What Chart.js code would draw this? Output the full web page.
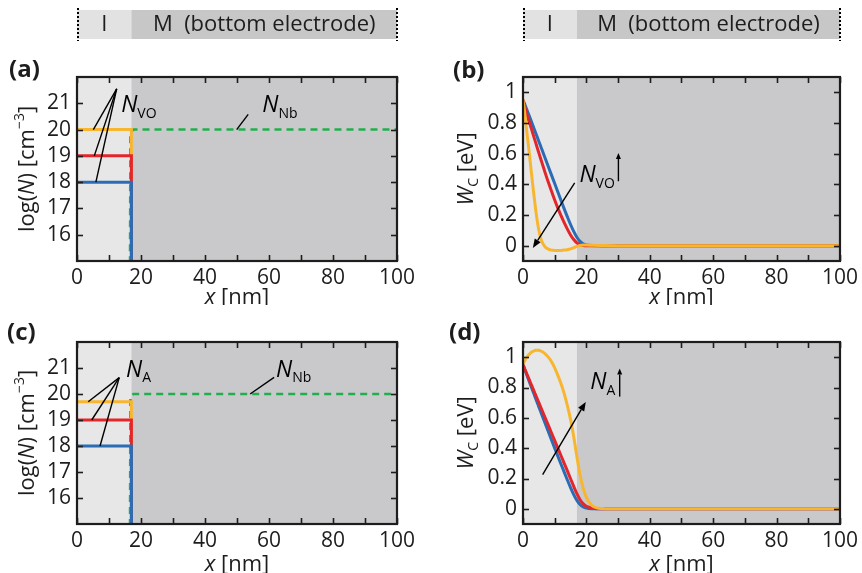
<!DOCTYPE html>
<html>
<head>
<meta charset="utf-8">
<script src="https://cdn.jsdelivr.net/npm/chart.js@4.4.1/dist/chart.umd.min.js"></script>
<style>
  html, body { margin: 0; padding: 0; background: #fff; }
  #wrap { position: relative; width: 862px; height: 573px; overflow: hidden; }
  #wrap canvas { position: absolute; display: block; }
</style>
</head>
<body>
<div id="wrap">
  <canvas id="panelA" width="431" height="305" style="left:0;top:0"></canvas>
  <canvas id="panelB" width="431" height="305" style="left:431px;top:0"></canvas>
  <canvas id="panelC" width="431" height="268" style="left:0;top:305px"></canvas>
  <canvas id="panelD" width="431" height="268" style="left:431px;top:305px"></canvas>
</div>
<script>
// interface between insulator (I) and bottom electrode (M), nm
const interfaceX = 17

const xTickValues = [ 0, 20, 40, 60, 80, 100 ]
const xMinorValues = [ 0, 10, 20, 30, 40, 50, 60, 70, 80, 90, 100 ]
const logTickValues = [ 16, 17, 18, 19, 20, 21 ]
const wTickValues = [ 0, 0.2, 0.4, 0.6, 0.8, 1 ]

// log10 of doping levels in the insulator: blue, red, yellow
const nVO = [ 18, 19, 20 ]
const nA = [ 18, 19, 19.7 ]
const nNb = 20

// conduction band edge W_C [eV] along x [nm]
const xGrid = [ 0, 0.5, 1, 1.5, 2, 2.5, 3, 3.5, 4, 4.5, 5, 5.5, 6,
  7, 8, 9, 10, 11, 12, 13, 14, 15, 16, 17, 18, 19, 20,
  22, 25, 30, 40, 60, 80, 100 ]

const wcVO18 = [ 0.95, 0.925, 0.898, 0.871, 0.845, 0.818, 0.79, 0.763, 0.735, 0.708, 0.68, 0.653, 0.625,
  0.57, 0.515, 0.46, 0.405, 0.35, 0.295, 0.24, 0.188, 0.138, 0.093, 0.055, 0.028, 0.012, 0.005,
  0.001, 0, 0, 0, 0, 0, 0 ]
const wcVO19 = [ 0.95, 0.91, 0.872, 0.838, 0.805, 0.772, 0.74, 0.705, 0.672, 0.638, 0.605, 0.572, 0.54,
  0.475, 0.413, 0.355, 0.298, 0.245, 0.196, 0.15, 0.108, 0.07, 0.04, 0.018, 0.006, 0.001, 0,
  0, 0, 0, 0, 0, 0, 0 ]
const wcVO20 = [ 0.95, 0.87, 0.78, 0.69, 0.6, 0.505, 0.41, 0.32, 0.235, 0.16, 0.1, 0.055, 0.025,
  -0.008, -0.022, -0.029, -0.031, -0.032, -0.031, -0.029, -0.026, -0.021, -0.013, -0.005, 0.001, 0.004, 0.004,
  0.002, 0.001, 0, 0, 0, 0, 0 ]

const wcA18 = [ 0.95, 0.922, 0.894, 0.866, 0.838, 0.81, 0.782, 0.755, 0.727, 0.7, 0.672, 0.645, 0.618,
  0.563, 0.508, 0.454, 0.4, 0.347, 0.294, 0.242, 0.19, 0.14, 0.094, 0.056, 0.029, 0.013, 0.005,
  0.001, 0, 0, 0, 0, 0, 0 ]
const wcA19 = [ 0.95, 0.925, 0.9, 0.875, 0.85, 0.825, 0.8, 0.775, 0.75, 0.725, 0.7, 0.675, 0.65,
  0.6, 0.55, 0.5, 0.45, 0.4, 0.35, 0.3, 0.25, 0.198, 0.148, 0.1, 0.06, 0.033, 0.016,
  0.004, 0, 0, 0, 0, 0, 0 ]
const wcA197 = [ 0.955, 0.975, 0.993, 1.008, 1.02, 1.03, 1.037, 1.042, 1.045, 1.046, 1.045, 1.042, 1.037,
  1.022, 1.0, 0.97, 0.93, 0.88, 0.825, 0.76, 0.68, 0.59, 0.475, 0.345, 0.225, 0.135, 0.075,
  0.018, 0.002, 0, 0, 0, 0, 0 ]

const BLUE = '#2A6DB5'
const RED = '#E3262B'
const YELLOW = '#F8B630'
const GREEN = '#20AF4C'
const INK = '#1E1C1D'
const FONT = '"Open Sans", sans-serif'

Chart.defaults.font.family = FONT
Chart.defaults.font.size = 21
Chart.defaults.color = INK

// ---- helpers ----------------------------------------------------------

function richText(ctx, parts, x, y, size, align) {
  const fontFor = k => {
    const s = (k === 'sub' || k === 'sup') ? Math.round(size * 0.62) : size
    return (k === 'i' ? 'italic ' : k === 'b' ? 'bold ' : '') + s + 'px ' + FONT
  }
  let total = 0
  parts.forEach(([t, k]) => { ctx.font = fontFor(k); total += ctx.measureText(t).width })
  let cx = align === 'center' ? x - total / 2 : x
  ctx.textAlign = 'left'
  ctx.textBaseline = 'middle'
  parts.forEach(([t, k]) => {
    ctx.font = fontFor(k)
    const dy = k === 'sub' ? size * 0.34 : k === 'sup' ? -size * 0.36 : 0
    ctx.fillText(t, cx, y + dy)
    cx += ctx.measureText(t).width
  })
}

function segment(ctx, x1, y1, x2, y2) {
  ctx.beginPath()
  ctx.moveTo(x1, y1)
  ctx.lineTo(x2, y2)
  ctx.stroke()
}

function arrow(ctx, x1, y1, x2, y2, len, half) {
  const ang = Math.atan2(y2 - y1, x2 - x1)
  const bx = x2 - len * Math.cos(ang)
  const by = y2 - len * Math.sin(ang)
  segment(ctx, x1, y1, bx, by)
  ctx.beginPath()
  ctx.moveTo(x2, y2)
  ctx.lineTo(bx + half * Math.sin(ang), by - half * Math.cos(ang))
  ctx.lineTo(bx - half * Math.sin(ang), by + half * Math.cos(ang))
  ctx.closePath()
  ctx.fill()
}

function stepData(level) {
  return [ { x: 0, y: level }, { x: interfaceX, y: level }, { x: interfaceX, y: 14 } ]
}

function nbData() {
  return [ { x: interfaceX - 0.45, y: 14 }, { x: interfaceX - 0.3, y: nNb - 0.12 },
    { x: interfaceX + 0.6, y: nNb }, { x: 100, y: nNb } ]
}

function curve(values) {
  return xGrid.map((x, i) => ({ x, y: values[i] }))
}

// ---- plugins ----------------------------------------------------------

// grey I / M regions, boxed frame and inward ticks on all four sides
const panelFrame = {
  id: 'panelFrame',
  beforeDatasetsDraw(chart) {
    const { ctx, chartArea: a, scales: { x } } = chart
    const xi = x.getPixelForValue(interfaceX)
    ctx.save()
    ctx.fillStyle = '#E7E7E7'
    ctx.fillRect(a.left, a.top, xi - a.left, a.bottom - a.top)
    ctx.fillStyle = '#C9C9CB'
    ctx.fillRect(xi, a.top, a.right - xi, a.bottom - a.top)
    ctx.restore()
  },
  afterDatasetsDraw(chart) {
    const { ctx, chartArea: a, scales: { x, y } } = chart
    const t = 6
    ctx.save()
    ctx.strokeStyle = INK
    ctx.lineWidth = 1.6
    xMinorValues.forEach(v => {
      const px = Math.round(x.getPixelForValue(v)) + 0.5
      segment(ctx, px, a.bottom, px, a.bottom - t)
      segment(ctx, px, a.top, px, a.top + t)
    })
    y.ticks.forEach(tk => {
      const py = Math.round(y.getPixelForValue(tk.value)) + 0.5
      segment(ctx, a.left, py, a.left + t, py)
      segment(ctx, a.right, py, a.right - t, py)
    })
    ctx.lineWidth = 2.2
    ctx.strokeRect(a.left, a.top, a.right - a.left, a.bottom - a.top)
    ctx.restore()
  }
}

// "I | M (bottom electrode)" strip above the top row
const layerStrip = {
  id: 'layerStrip',
  afterDraw(chart) {
    const { ctx, chartArea: a, scales: { x } } = chart
    const xi = x.getPixelForValue(interfaceX)
    const top = 10
    const h = 29
    ctx.save()
    ctx.fillStyle = '#E2E2E2'
    ctx.fillRect(a.left, top, xi - a.left, h)
    ctx.fillStyle = '#C7C7C7'
    ctx.fillRect(xi, top, a.right - xi, h)
    ctx.strokeStyle = '#000'
    ctx.lineWidth = 2
    ctx.setLineDash([ 2, 2 ])
    for (const px of [ a.left + 1, a.right ]) {
      segment(ctx, px, top - 2, px, top + h + 2)
    }
    ctx.setLineDash([])
    ctx.fillStyle = INK
    richText(ctx, [ [ 'I', 'r' ] ], (a.left + xi) / 2, top + h / 2, 22, 'center')
    richText(ctx, [ [ 'M  (bottom electrode)', 'r' ] ], (xi + a.right) / 2, top + h / 2, 22, 'center')
    ctx.restore()
  }
}

function axisTitles(label, labelX, labelY, yParts, yTitleX, xTitleY) {
  return {
    id: 'axisTitles',
    afterDraw(chart) {
      const { ctx, chartArea: a } = chart
      ctx.save()
      ctx.fillStyle = INK
      ctx.font = 'bold 24px ' + FONT
      ctx.textAlign = 'left'
      ctx.textBaseline = 'middle'
      ctx.fillText(label, labelX, labelY)
      richText(ctx, [ [ 'x', 'i' ], [ ' [nm]', 'r' ] ], (a.left + a.right) / 2, xTitleY, 22, 'center')
      ctx.translate(yTitleX, (a.top + a.bottom) / 2)
      ctx.rotate(-Math.PI / 2)
      richText(ctx, yParts, 0, 0, 22, 'center')
      ctx.restore()
    }
  }
}

const logTitle = [ [ 'log(', 'r' ], [ 'N', 'i' ], [ ') [cm', 'r' ], [ '\u22123', 'sup' ], [ ']', 'r' ] ]
const wTitle = [ [ 'W', 'i' ], [ 'C', 'sub' ], [ ' [eV]', 'r' ] ]

// leader lines and labels
function notesPlugin(draw) {
  return {
    id: 'notes',
    afterDatasetsDraw(chart) {
      const { ctx, scales: { x, y } } = chart
      const px = v => x.getPixelForValue(v)
      const py = v => y.getPixelForValue(v)
      ctx.save()
      ctx.strokeStyle = '#000'
      ctx.fillStyle = '#000'
      ctx.lineWidth = 1.4
      draw(ctx, px, py)
      ctx.restore()
    }
  }
}

const notesA = notesPlugin((ctx, px, py) => {
  const hub = [ 12.4, 21.55 ]
  for (const [ ex, ey ] of [ [ 5.1, nVO[2] ], [ 5.4, nVO[1] ], [ 5.9, nVO[0] ] ]) {
    segment(ctx, px(hub[0]), py(hub[1]), px(ex), py(ey))
  }
  segment(ctx, px(53.5), py(20.58), px(49.9), py(nNb))
  richText(ctx, [ [ 'N', 'i' ], [ 'VO', 'sub' ] ], px(13.8), py(20.9), 23, 'left')
  richText(ctx, [ [ 'N', 'i' ], [ 'Nb', 'sub' ] ], px(57.9), py(20.9), 23, 'left')
})

const notesC = notesPlugin((ctx, px, py) => {
  const hub = [ 13.2, 20.63 ]
  for (const [ ex, ey ] of [ [ 3.5, nA[2] ], [ 4.6, nA[1] ], [ 7.2, nA[0] ] ]) {
    segment(ctx, px(hub[0]), py(hub[1]), px(ex), py(ey))
  }
  segment(ctx, px(61.6), py(20.64), px(54.1), py(nNb))
  richText(ctx, [ [ 'N', 'i' ], [ 'A', 'sub' ] ], px(15.3), py(20.92), 23, 'left')
  richText(ctx, [ [ 'N', 'i' ], [ 'Nb', 'sub' ] ], px(62.2), py(20.92), 23, 'left')
})

const notesB = notesPlugin((ctx, px, py) => {
  arrow(ctx, px(16.3), py(0.41), px(3.1), py(-0.015), 9, 3.5)
  arrow(ctx, px(30.1), py(0.42), px(30.1), py(0.605), 6, 2.5)
  richText(ctx, [ [ 'N', 'i' ], [ 'VO', 'sub' ] ], px(17.8), py(0.455), 23, 'left')
})

const notesD = notesPlugin((ctx, px, py) => {
  arrow(ctx, px(6.2), py(0.225), px(19.8), py(0.705), 9, 3.5)
  arrow(ctx, px(30.5), py(0.74), px(30.5), py(0.925), 6, 2.5)
  richText(ctx, [ [ 'N', 'i' ], [ 'A', 'sub' ] ], px(21.2), py(0.83), 23, 'left')
})

// ---- chart factory ----------------------------------------------------

function makePanel(id, datasets, yRange, yTicks, pad, yWidth, xHeight, plugins) {
  return new Chart(document.getElementById(id), {
    type: 'line',
    data: { datasets },
    plugins: [ panelFrame, ...plugins ],
    options: {
      responsive: false,
      animation: false,
      events: [],
      layout: { padding: pad },
      elements: {
        point: { radius: 0 },
        line: { borderWidth: 3, borderJoinStyle: 'miter', borderCapStyle: 'butt' }
      },
      scales: {
        x: {
          type: 'linear',
          min: 0,
          max: 100,
          afterBuildTicks: s => { s.ticks = xTickValues.map(v => ({ value: v })) },
          afterFit: s => { s.height = xHeight },
          grid: { display: false, drawTicks: false },
          border: { display: false },
          ticks: { padding: 4, maxRotation: 0, autoSkip: false, callback: v => String(v) }
        },
        y: {
          type: 'linear',
          min: yRange[0],
          max: yRange[1],
          afterBuildTicks: s => { s.ticks = yTicks.map(v => ({ value: v })) },
          afterFit: s => { s.width = yWidth },
          grid: { display: false, drawTicks: false },
          border: { display: false },
          ticks: { padding: 6, autoSkip: false, callback: v => String(v) }
        }
      },
      plugins: {
        legend: { display: false },
        tooltip: { enabled: false }
      }
    }
  })
}

function dopingSets(levels) {
  return [
    { data: stepData(levels[0]), borderColor: BLUE },
    { data: stepData(levels[1]), borderColor: RED },
    { data: stepData(levels[2]), borderColor: YELLOW },
    { data: nbData(), borderColor: GREEN, borderWidth: 2.6, borderDash: [ 7, 5 ] }
  ]
}

function bandSets(blue, red, yellow) {
  return [
    { data: curve(yellow), borderColor: YELLOW, cubicInterpolationMode: 'monotone' },
    { data: curve(red), borderColor: RED, cubicInterpolationMode: 'monotone' },
    { data: curve(blue), borderColor: BLUE, cubicInterpolationMode: 'monotone' }
  ]
}

let panelA = makePanel('panelA', dopingSets(nVO), [ 15, 22 ], logTickValues,
  { top: 77, right: 34, left: 0, bottom: 0 }, 77, 44,
  [ layerStrip, notesA, axisTitles('(a)', 9, 70, logTitle, 28, 298) ])

let panelB = makePanel('panelB', bandSets(wcVO18, wcVO19, wcVO20), [ -0.1, 1.1 ], wTickValues,
  { top: 77, right: 19, left: 0, bottom: 0 }, 92, 44,
  [ layerStrip, notesB, axisTitles('(b)', 22, 71, wTitle, 36, 298) ])

let panelC = makePanel('panelC', dopingSets(nA), [ 15, 22 ], logTickValues,
  { top: 37, right: 34, left: 0, bottom: 0 }, 77, 49,
  [ notesC, axisTitles('(c)', 7, 28, logTitle, 28, 260) ])

let panelD = makePanel('panelD', bandSets(wcA18, wcA19, wcA197), [ -0.1, 1.1 ], wTickValues,
  { top: 37, right: 19, left: 0, bottom: 0 }, 92, 49,
  [ notesD, axisTitles('(d)', 18, 28, wTitle, 36, 260) ])
</script>
</body>
</html>
